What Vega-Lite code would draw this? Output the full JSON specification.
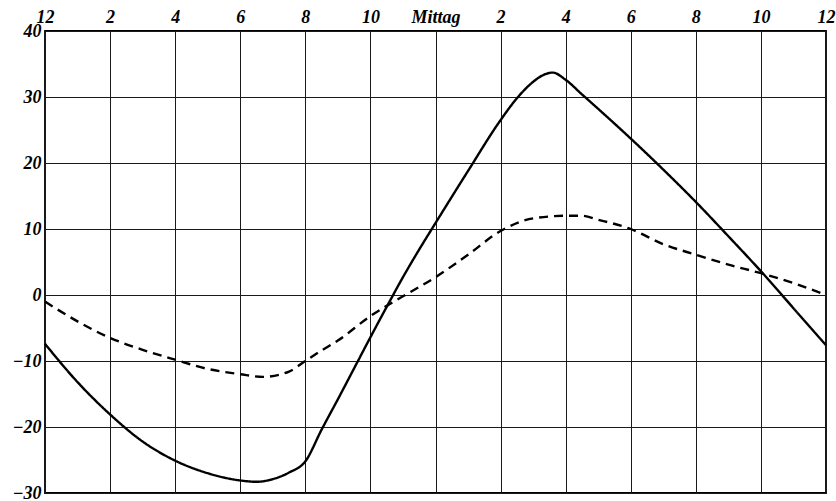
{
  "$schema": "https://vega.github.io/schema/vega-lite/v6.json",
  "width": 781,
  "height": 462,
  "autosize": {"type": "none"},
  "padding": {"left": 45, "top": 31, "right": 10, "bottom": 8},
  "background": "white",
  "config": {
    "view": {"stroke": "black", "strokeWidth": 1.8},
    "axis": {
      "labelFont": "Liberation Serif",
      "labelFontStyle": "italic",
      "labelFontWeight": "bold",
      "labelFontSize": 18,
      "labelColor": "black",
      "gridColor": "#1a1a1a",
      "gridWidth": 1,
      "gridOpacity": 1,
      "domain": false,
      "ticks": false,
      "title": null
    }
  },
  "data": {
    "values": [
      {"Stunde": 0, "Wert": -7.4, "Kurve": "ausgezogen"},
      {"Stunde": 1, "Wert": -13.2, "Kurve": "ausgezogen"},
      {"Stunde": 2, "Wert": -18.1, "Kurve": "ausgezogen"},
      {"Stunde": 3, "Wert": -22.2, "Kurve": "ausgezogen"},
      {"Stunde": 4, "Wert": -25.1, "Kurve": "ausgezogen"},
      {"Stunde": 5, "Wert": -27.0, "Kurve": "ausgezogen"},
      {"Stunde": 6, "Wert": -28.1, "Kurve": "ausgezogen"},
      {"Stunde": 6.5, "Wert": -28.3, "Kurve": "ausgezogen"},
      {"Stunde": 7, "Wert": -27.9, "Kurve": "ausgezogen"},
      {"Stunde": 7.5, "Wert": -26.9, "Kurve": "ausgezogen"},
      {"Stunde": 8, "Wert": -25.2, "Kurve": "ausgezogen"},
      {"Stunde": 8.5, "Wert": -20.4, "Kurve": "ausgezogen"},
      {"Stunde": 9, "Wert": -15.8, "Kurve": "ausgezogen"},
      {"Stunde": 9.5, "Wert": -11.1, "Kurve": "ausgezogen"},
      {"Stunde": 10, "Wert": -6.4, "Kurve": "ausgezogen"},
      {"Stunde": 10.5, "Wert": -1.8, "Kurve": "ausgezogen"},
      {"Stunde": 11, "Wert": 2.7, "Kurve": "ausgezogen"},
      {"Stunde": 11.5, "Wert": 6.9, "Kurve": "ausgezogen"},
      {"Stunde": 12, "Wert": 10.9, "Kurve": "ausgezogen"},
      {"Stunde": 13, "Wert": 18.8, "Kurve": "ausgezogen"},
      {"Stunde": 14, "Wert": 26.5, "Kurve": "ausgezogen"},
      {"Stunde": 14.5, "Wert": 29.8, "Kurve": "ausgezogen"},
      {"Stunde": 15, "Wert": 32.3, "Kurve": "ausgezogen"},
      {"Stunde": 15.3, "Wert": 33.3, "Kurve": "ausgezogen"},
      {"Stunde": 15.6, "Wert": 33.7, "Kurve": "ausgezogen"},
      {"Stunde": 16, "Wert": 32.6, "Kurve": "ausgezogen"},
      {"Stunde": 16.5, "Wert": 30.4, "Kurve": "ausgezogen"},
      {"Stunde": 17, "Wert": 28.2, "Kurve": "ausgezogen"},
      {"Stunde": 18, "Wert": 23.7, "Kurve": "ausgezogen"},
      {"Stunde": 19, "Wert": 19.0, "Kurve": "ausgezogen"},
      {"Stunde": 20, "Wert": 14.1, "Kurve": "ausgezogen"},
      {"Stunde": 21, "Wert": 8.9, "Kurve": "ausgezogen"},
      {"Stunde": 22, "Wert": 3.6, "Kurve": "ausgezogen"},
      {"Stunde": 23, "Wert": -2.0, "Kurve": "ausgezogen"},
      {"Stunde": 24, "Wert": -7.6, "Kurve": "ausgezogen"},
      {"Stunde": 0, "Wert": -1.0, "Kurve": "gestrichelt"},
      {"Stunde": 1, "Wert": -4.0, "Kurve": "gestrichelt"},
      {"Stunde": 2, "Wert": -6.5, "Kurve": "gestrichelt"},
      {"Stunde": 3, "Wert": -8.3, "Kurve": "gestrichelt"},
      {"Stunde": 4, "Wert": -9.8, "Kurve": "gestrichelt"},
      {"Stunde": 5, "Wert": -11.2, "Kurve": "gestrichelt"},
      {"Stunde": 6, "Wert": -12.0, "Kurve": "gestrichelt"},
      {"Stunde": 6.7, "Wert": -12.4, "Kurve": "gestrichelt"},
      {"Stunde": 7.5, "Wert": -11.6, "Kurve": "gestrichelt"},
      {"Stunde": 8, "Wert": -10.0, "Kurve": "gestrichelt"},
      {"Stunde": 8.5, "Wert": -8.4, "Kurve": "gestrichelt"},
      {"Stunde": 9, "Wert": -6.9, "Kurve": "gestrichelt"},
      {"Stunde": 10, "Wert": -3.2, "Kurve": "gestrichelt"},
      {"Stunde": 11, "Wert": -0.2, "Kurve": "gestrichelt"},
      {"Stunde": 12, "Wert": 2.7, "Kurve": "gestrichelt"},
      {"Stunde": 13, "Wert": 6.1, "Kurve": "gestrichelt"},
      {"Stunde": 14, "Wert": 9.7, "Kurve": "gestrichelt"},
      {"Stunde": 15, "Wert": 11.6, "Kurve": "gestrichelt"},
      {"Stunde": 16, "Wert": 12.0, "Kurve": "gestrichelt"},
      {"Stunde": 16.5, "Wert": 12.0, "Kurve": "gestrichelt"},
      {"Stunde": 17, "Wert": 11.4, "Kurve": "gestrichelt"},
      {"Stunde": 18, "Wert": 10.0, "Kurve": "gestrichelt"},
      {"Stunde": 19, "Wert": 7.7, "Kurve": "gestrichelt"},
      {"Stunde": 20, "Wert": 6.1, "Kurve": "gestrichelt"},
      {"Stunde": 21, "Wert": 4.6, "Kurve": "gestrichelt"},
      {"Stunde": 22, "Wert": 3.3, "Kurve": "gestrichelt"},
      {"Stunde": 23, "Wert": 1.8, "Kurve": "gestrichelt"},
      {"Stunde": 24, "Wert": 0.0, "Kurve": "gestrichelt"}
    ]
  },
  "mark": {"type": "line", "interpolate": "monotone", "color": "black", "strokeWidth": 2.4},
  "encoding": {
    "x": {
      "field": "Stunde",
      "type": "quantitative",
      "scale": {"domain": [0, 24], "nice": false, "zero": false},
      "axis": {
        "orient": "top",
        "values": [0, 2, 4, 6, 8, 10, 12, 14, 16, 18, 20, 22, 24],
        "labelPadding": 5,
        "labelFlush": false,
        "labelOverlap": false,
        "labelExpr": "datum.value == 0 || datum.value == 24 ? '12' : datum.value == 12 ? 'Mittag' : datum.value > 12 ? '' + (datum.value - 12) : '' + datum.value"
      }
    },
    "y": {
      "field": "Wert",
      "type": "quantitative",
      "scale": {"domain": [-30, 40], "nice": false, "zero": false},
      "axis": {
        "values": [-30, -20, -10, 0, 10, 20, 30, 40],
        "labelPadding": 4,
        "labelFlush": false,
        "labelOverlap": false,
        "format": "d"
      }
    },
    "strokeDash": {
      "field": "Kurve",
      "type": "nominal",
      "scale": {"domain": ["ausgezogen", "gestrichelt"], "range": [[1, 0], [9, 6]]},
      "legend": null
    }
  }
}
